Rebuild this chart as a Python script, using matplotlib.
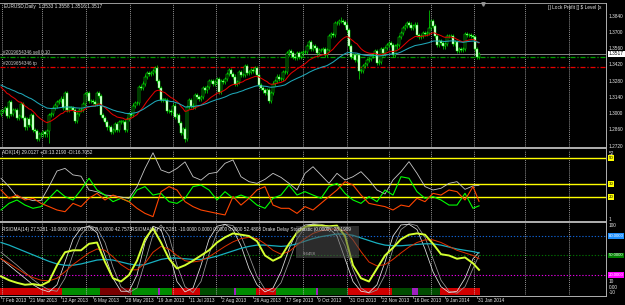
import numpy as np
import matplotlib
matplotlib.use('Agg')
import matplotlib.pyplot as plt
from matplotlib.lines import Line2D
from matplotlib.patches import Rectangle

plt.rcParams['font.family'] = ['Liberation Sans', 'DejaVu Sans']

W, H = 625, 305

# ---------------- data ----------------
closes = [
    # Mar 2013
    1.3020, 1.3020, 1.3050, 1.2980, 1.3100, 1.3000, 1.3030, 1.3030, 1.2960, 1.2980, 1.3080,
    1.2960, 1.2880, 1.2950, 1.2900, 1.2990, 1.2860, 1.2850, 1.2780, 1.2820, 1.2820,
    # Apr
    1.2840, 1.2820, 1.2850, 1.2990, 1.3000, 1.3050, 1.3070, 1.3100, 1.3110, 1.3130, 1.3050,
    1.3180, 1.3030, 1.3050, 1.3050, 1.3030, 1.2940, 1.3000, 1.3030, 1.3030, 1.3080, 1.3170,
    # May
    1.3180, 1.3110, 1.3110, 1.3100, 1.3080, 1.3180, 1.3150, 1.2990, 1.2960, 1.2930, 1.2880,
    1.2880, 1.2840, 1.2860, 1.2910, 1.2860, 1.2930, 1.2930, 1.2930, 1.2860, 1.2950, 1.3000, 1.2990,
    # Jun
    1.3070, 1.3090, 1.3090, 1.3230, 1.3220, 1.3260, 1.3320, 1.3350, 1.3340, 1.3350,
    1.3370, 1.3390, 1.3280, 1.3220, 1.3120, 1.3120, 1.3120, 1.3020, 1.3020, 1.3010,
    # Jul
    1.3070, 1.2970, 1.2990, 1.2920, 1.2830, 1.2870, 1.2780, 1.3060, 1.3120, 1.3070, 1.3060,
    1.3160, 1.3140, 1.3130, 1.3140, 1.3220, 1.3200, 1.3230, 1.3280, 1.3280, 1.3260, 1.3270, 1.3300,
    # Aug
    1.3190, 1.3280, 1.3270, 1.3300, 1.3340, 1.3380, 1.3340, 1.3320, 1.3260, 1.3270, 1.3360,
    1.3330, 1.3330, 1.3410, 1.3350, 1.3360, 1.3380, 1.3370, 1.3390, 1.3330, 1.3250, 1.3220,
    # Sep
    1.3200, 1.3180, 1.3200, 1.3110, 1.3180, 1.3260, 1.3280, 1.3320, 1.3300, 1.3300, 1.3360,
    1.3360, 1.3520, 1.3540, 1.3520, 1.3490, 1.3480, 1.3520, 1.3490, 1.3520, 1.3530,
    # Oct
    1.3530, 1.3580, 1.3620, 1.3560, 1.3580, 1.3570, 1.3520, 1.3550, 1.3550, 1.3560, 1.3510,
    1.3550, 1.3670, 1.3690, 1.3680, 1.3780, 1.3780, 1.3800, 1.3800, 1.3790, 1.3770, 1.3720, 1.3580,
    # Nov
    1.3490, 1.3510, 1.3460, 1.3510, 1.3370, 1.3370, 1.3410, 1.3430, 1.3460, 1.3470, 1.3500,
    1.3510, 1.3540, 1.3440, 1.3450, 1.3560, 1.3520, 1.3570, 1.3590, 1.3610, 1.3590,
    # Dec
    1.3510, 1.3580, 1.3590, 1.3660, 1.3700, 1.3740, 1.3760, 1.3780, 1.3770, 1.3740, 1.3760,
    1.3770, 1.3680, 1.3660, 1.3670, 1.3700, 1.3690, 1.3700, 1.3740, 1.3800, 1.3760,
    # Jan 2014
    1.3670, 1.3590, 1.3630, 1.3610, 1.3580, 1.3600, 1.3670, 1.3670, 1.3670, 1.3600, 1.3620,
    1.3540, 1.3560, 1.3550, 1.3560, 1.3690, 1.3680, 1.3680, 1.3670, 1.3660, 1.3560, 1.3490,
    # Feb
    1.3517,
]
first_open = 1.3000
wick = 0.0018
extreme_highs = {78: 1.3416, 170: 1.3832, 214: 1.3893}
extreme_lows = {24: 1.2745, 92: 1.2755, 179: 1.3295}
fast_ma_start, slow_ma_start = 1.3230, 1.3247

price_ticks = [1.3840, 1.3700, 1.3560, 1.3420, 1.3280, 1.3140, 1.3000, 1.2860, 1.2720]
bid = 1.3517
order_price = 1.3489
tp_price = 1.3403

sample_bars = list(range(0, 240, 4)) + [239]
adx = [34.4, 28, 20.3, 19, 17.2, 17.2, 28, 40, 42, 37,
       36, 25.4, 24, 21.5, 21, 20, 19, 28, 42, 54,
       40.8, 38.5, 42, 47, 35.6, 33, 38, 39, 45.9, 48.5,
       35.6, 31.8, 30.5, 33.6, 38.2, 35.1, 30.5, 25.4, 38.2, 43.3,
       36.9, 30.5, 38.2, 33.1, 35.6, 39.5, 33.1, 25.4, 22.3, 33.1,
       39.5, 47.2, 38.2, 28, 25.4, 26.7, 30.5, 31.8, 25.9, 28.5, 29.0]
plus_di = [10, 15.1, 17.7, 13.8, 11.3, 12.6, 19, 25.4, 20.3, 17.7,
           25.4, 34.4, 25.4, 21.5, 16.4, 19, 16.4, 25.4, 28, 21.5,
           22.8, 16.4, 15.1, 19, 28, 29.2, 25.4, 17.7, 24.1, 19,
           21.5, 19, 13.8, 11.3, 19, 21.5, 29.2, 21.5, 24.1, 21.5,
           19, 28, 30.5, 22.8, 17.7, 15.1, 20.3, 16.4, 25.4, 21.5,
           35.6, 34.4, 24.1, 19, 20.3, 17.7, 13.8, 13.8, 22.8, 11.3, 13.2]
minus_di = [25.4, 19, 21.5, 17.7, 19, 15.1, 12.6, 10, 8.7, 15.1,
            12.6, 19, 22.8, 17.7, 21.5, 19, 16.4, 11.3, 7.4, 4.9,
            24.1, 28, 25.4, 16.4, 12.6, 10, 8.7, 7.4, 6.2, 20.3,
            13.8, 19, 25.4, 28, 13.8, 11.3, 11.3, 7.4, 12.6, 10,
            15.1, 20.3, 25.4, 31.8, 29.2, 21.5, 15.1, 13.8, 12.6, 10,
            13.8, 12.6, 19, 16.4, 22.8, 21.5, 25.4, 24.1, 17.7, 28, 16.7]
adx_levels = [50, 30, 20]

rsioma = [18, 12, 8, 5, 6, 4, 10, 35, 55, 58,
          58, 68, 70, 40, 15, 10, 20, 42, 75, 92,
          70, 45, 30, 35, 42, 50, 58, 70, 78, 84,
          82, 80, 72, 50, 42, 48, 68, 85, 94, 96,
          96, 95, 96, 80, 35, 15, 10, 30, 50, 62,
          75, 82, 84, 82, 68, 52, 50, 45, 47, 38, 28]
stoch_a = [45, 35, 25, 15, 5, -2, -6, 5, 40, 75,
           92, 95, 85, 50, 15, -5, -5, 20, 70, 95,
           90, 55, 10, -6, 0, 35, 75, 95, 98, 90,
           65, 30, 5, -6, 0, 25, 60, 88, 97, 98,
           96, 92, 80, 45, 10, -5, -7, 5, 40, 80,
           97, 98, 90, 60, 25, 2, -7, -5, 15, 45, 55]
stoch_b = [55, 45, 35, 24, 13, 4, -3, -5, 15, 52,
           82, 96, 92, 70, 32, 2, -7, 0, 40, 82,
           97, 80, 35, 2, -7, 10, 52, 85, 98, 96,
           80, 50, 18, -2, -6, 8, 40, 75, 94, 99,
           98, 95, 88, 65, 28, 0, -8, -3, 20, 60,
           90, 99, 96, 78, 45, 12, -5, -8, 2, 30, 50]
signal_red = [45, 38, 30, 22, 16, 12, 11, 15, 25, 36,
              45, 54, 60, 58, 48, 36, 28, 28, 38, 55,
              64, 60, 50, 42, 40, 42, 48, 56, 64, 71,
              76, 78, 76, 68, 58, 52, 56, 66, 76, 84,
              88, 90, 91, 88, 74, 56, 40, 34, 36, 44,
              54, 63, 70, 74, 74, 70, 64, 58, 54, 50, 45]
signal_teal = [70, 66, 61, 56, 51, 46, 41, 37, 35, 35,
               37, 40, 43, 44, 43, 40, 37, 35, 36, 40,
               44, 46, 46, 45, 44, 44, 46, 49, 53, 57,
               61, 64, 66, 66, 65, 64, 65, 68, 72, 76,
               79, 81, 83, 83, 81, 77, 73, 69, 66, 65,
               65, 66, 67, 68, 68, 66, 63, 60, 58, 56, 54]
stoch_levels = [(80, '#1060d0', '#1e90ff', '80.0000'),
                (50, '#007000', '#008000', '50.0000'),
                (20, '#e000e0', '#ff00ff', '20.0000')]

hist_runs = [('r', 31), ('g', 19), ('dr', 16), ('g', 13), ('m', 1), ('g', 6), ('r', 14),
             ('dg', 17), ('m', 1), ('g', 10), ('r', 10), ('g', 20), ('m', 1), ('dg', 15),
             ('r', 22), ('dg', 10), ('m', 3), ('dg', 11), ('r', 20)]
hist_colors = {'r': '#d00000', 'dr': '#780000', 'g': '#008c00', 'dg': '#004c00', 'm': '#a020c0'}

date_labels = ['7 Feb 2013', '21 Mar 2013', '12 Apr 2013', '6 May 2013', '28 May 2013',
               '19 Jun 2013', '11 Jul 2013', '2 Aug 2013', '26 Aug 2013', '17 Sep 2013',
               '9 Oct 2013', '31 Oct 2013', '22 Nov 2013', '16 Dec 2013', '9 Jan 2014',
               '31 Jan 2014']
date_bars = [0, 14, 30, 46, 62, 78, 94, 110, 126, 142, 158, 174, 190, 206, 222, 238]
grid_bars = [0.5, 20.5, 42.5, 64.5, 86, 107.5, 129, 151, 173, 194, 215, 236.5, 262, 284]

# ---------------- derived series ----------------
closes = np.array(closes)
n = len(closes)
bars = np.arange(n)
opens = np.r_[first_open, closes[:-1]]
highs = np.maximum(opens, closes) + wick
lows = np.minimum(opens, closes) - wick
for k, v in extreme_highs.items():
    highs[k] = v
for k, v in extreme_lows.items():
    lows[k] = v


def ema(values, period, start):
    out = [start]
    a = 2.0 / (period + 1)
    for v in values[1:]:
        out.append(out[-1] + a * (v - out[-1]))
    return np.array(out)


ma_fast = ema(closes, 20, fast_ma_start)
ma_slow = ema(closes, 50, slow_ma_start)

# ---------------- figure ----------------
fig = plt.figure(figsize=(W / 100, H / 100), dpi=100, facecolor='black')
AX_R = 606


def panel(top, bottom):
    ax = fig.add_axes([0, 1 - bottom / H, AX_R / W, (bottom - top) / H])
    ax.set_facecolor('black')
    ax.set_xlim(-0.5, (AX_R - 1) / 2.0)
    ax.axis('off')
    return ax


def px_line(x0, y0, x1, y1, **kw):
    fig.add_artist(Line2D([x0 / W, x1 / W], [1 - y0 / H, 1 - y1 / H], **kw))


TXT = dict(fontsize=3.4, color='#e8e8e8')


def right_label(ax, y, s, **kw):
    d = dict(TXT)
    d.update(kw)
    ax.text(1 + 3.0 / AX_R, y, s, transform=ax.get_yaxis_transform(),
            va='center', ha='left', clip_on=False, **d)


# price panel
p_of = lambda y: 1.272 + (146 - y) * 0.014 / 16.2
ax1 = panel(3, 147)
ax1.set_ylim(p_of(147), p_of(3))
up = closes >= opens
ax1.vlines(bars, lows, highs, color='#00ff00', lw=0.45, zorder=3)
body_lo = np.minimum(opens, closes)
body_h = np.maximum(np.abs(closes - opens), 0.0003)
ax1.bar(bars[up], body_h[up], bottom=body_lo[up], width=0.75, color='black',
        edgecolor='#00ff00', linewidth=0.35, zorder=4)
ax1.bar(bars[~up], body_h[~up], bottom=body_lo[~up], width=0.75, color='white',
        edgecolor='#00ff00', linewidth=0.35, zorder=4)
ax1.plot(bars, ma_fast, color='#e00000', lw=0.75, zorder=5)
ax1.plot(bars, ma_slow, color='#1fa8b8', lw=0.75, zorder=5)
ax1.axhline(bid, color='#9a9a9a', lw=0.6, zorder=2)
ax1.axhline(order_price, color='#00a000', lw=0.9, dashes=(4, 1.5, 1, 1.5), zorder=2)
ax1.axhline(tp_price, color='#e80000', lw=0.9, dashes=(4, 1.5, 1, 1.5), zorder=2)
for p in price_ticks:
    right_label(ax1, p, '%.4f' % p)
right_label(ax1, bid, '%.4f' % bid, color='black',
            bbox=dict(boxstyle='square,pad=0.15', fc='white', ec='none'))
fig.text(4 / W, 1 - 6.5 / H, 'EURUSD,Daily  1.3533 1.3558 1.3516 1.3517', va='center', **TXT)
fig.text(548 / W, 1 - 7 / H, '[] Lock Profit [] $ Level [x', va='center', **TXT)
fig.text(3 / W, 1 - 52 / H, '#2019654346 sell 0.10', va='center', fontsize=3.3, color='#c8c8c8')
fig.text(3 / W, 1 - 63 / H, '#2019654346 tp', va='center', fontsize=3.3, color='#c8c8c8')
fig.add_artist(Line2D([483 / W], [1 - 3.5 / H], marker='v', markersize=2.5, color='#909090'))

# ADX panel
ax2 = panel(150, 221)
ax2.set_ylim(1.54, 56.15)
for lv in adx_levels:
    ax2.axhline(lv, color='#ffff00', lw=1.0, zorder=2)
    right_label(ax2, lv, str(lv), color='black', fontsize=3.2,
                bbox=dict(boxstyle='square,pad=0.12', fc='#ffff00', ec='none'))
ax2.plot(sample_bars, adx, color='#c8c8c8', lw=0.6, zorder=4)
ax2.plot(sample_bars, plus_di, color='#00ff00', lw=0.8, zorder=4)
ax2.plot(sample_bars, minus_di, color='#ff4500', lw=0.8, zorder=4)
right_label(ax2, 53.5, '52')
right_label(ax2, 3.0, '1')
fig.text(2 / W, 1 - 152.5 / H, 'ADX(14) 29.0127 +DI:13.2190 -DI:16.7052', va='center', **TXT)

# stochastic panel
ax3 = panel(223, 295)
ax3.set_ylim(-10.77, 100)
hist_c = []
for code, cnt in hist_runs:
    hist_c += [hist_colors[code]] * cnt
hist_c = hist_c[:n]
ax3.bar(bars[:len(hist_c)], [10.77] * len(hist_c), bottom=-10.77, width=0.55,
        color=hist_c, linewidth=0, zorder=1)
for lv, lc, bc, s in stoch_levels:
    ax3.axhline(lv, color=lc, lw=0.8, dashes=(1.2, 1.6), zorder=2)
    right_label(ax3, lv, s, color='white', fontsize=3.1,
                bbox=dict(boxstyle='square,pad=0.12', fc=bc, ec='none'))
ax3.plot(sample_bars, stoch_b, color='#9a9a9a', lw=0.55, zorder=3)
ax3.plot(sample_bars, stoch_a, color='#e6e6e6', lw=0.55, zorder=3)
ax3.plot(sample_bars, signal_teal, color='#18b0c0', lw=0.9, zorder=4)
ax3.plot(sample_bars, signal_red, color='#e03000', lw=0.7, zorder=4)
ax3.plot(sample_bars, rsioma, color='#d4ff30', lw=1.4, zorder=5)
ax3.add_patch(Rectangle((147.5, 46), 31.5, 49, color='#505050', alpha=0.55, lw=0, zorder=6))
ax3.text(151, 52, '9.6458', fontsize=3.1, color='#a8a8a8', va='center', zorder=7)
right_label(ax3, 96, '100')
right_label(ax3, 10, '10')
right_label(ax3, 1.5, '0.00')
right_label(ax3, -7, '-10')
fig.text(2 / W, 1 - 230 / H, 'RSIOMA(14) 27.5281 -10.0000 0.0000 0.0000 0.0000 42.7573',
         va='center', **TXT)
fig.text(131 / W, 1 - 230 / H, 'RSIOMA(14) 27.5281 -10.0000 0.0000 0.0000 0.0000 52.4808 '
         'Drake Delay Stochastic (0.0000)  28.1909', va='center', **TXT)

# grid, borders, separators
for ax in (ax1, ax2, ax3):
    for gb in grid_bars:
        ax.axvline(gb, color='#c8c8c8', lw=0.5, dashes=(1.5, 1.5), zorder=1)
px_line(0, 3, AX_R, 3, color='#9a9a9a', lw=0.7)
for y in (148.5, 222):
    px_line(0, y, AX_R, y, color='#b0b0b0', lw=1.4)
px_line(0, 295.5, AX_R, 295.5, color='#b0b0b0', lw=0.7)
px_line(AX_R, 3, AX_R, 295.5, color='#b0b0b0', lw=0.7)

# date axis
for s, b in zip(date_labels, date_bars):
    x = 2 * b + 1
    px_line(x, 295.5, x, 298, color='#b0b0b0', lw=0.5)
    fig.text((x + 1) / W, 1 - 300.5 / H, s, va='center', ha='left', **TXT)

fig.savefig('out.png', dpi=100, facecolor='black')
